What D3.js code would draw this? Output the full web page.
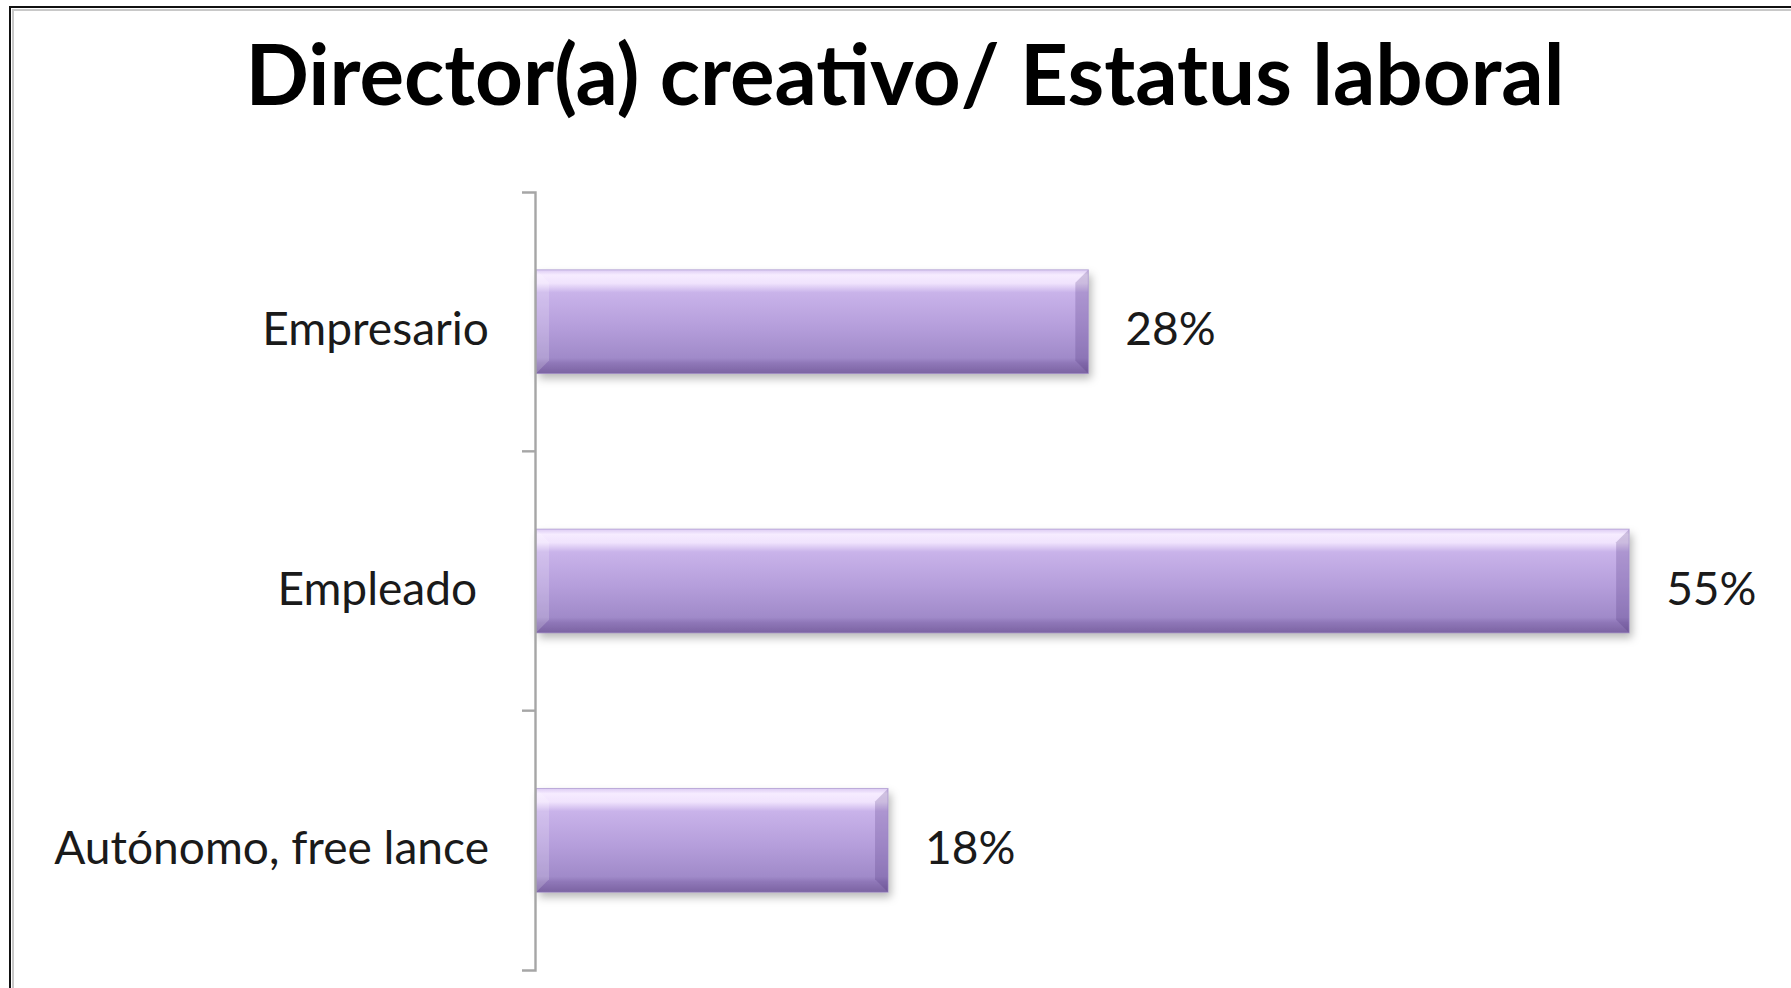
<!DOCTYPE html>
<html>
<head>
<meta charset="utf-8">
<script src="https://cdn.jsdelivr.net/npm/d3@7"></script>
<style>
  html, body { margin: 0; padding: 0; background: #ffffff; }
  svg { display: block; }
  text { font-family: Lato, "Open Sans", "Noto Sans", sans-serif; }
</style>
</head>
<body>
<svg id="chart" width="1791" height="988"></svg>
<script>
// ---- data ----
const title = "Director(a) creativo/ Estatus laboral";
const categories = ["Empresario", "Empleado ", "Autónomo, free lance"];
const values = [28, 55, 18];           // percent
const valueLabels = ["28%", "55%", "18%"];
const xDomain = [0, 60];

// ---- layout ----
const W = 1791, H = 988;
const plot = { axisX: 535, zero: 527.5, right: 1729.3, top: 192, bottom: 970 };

const svg = d3.select("#chart");

// frame
svg.append("rect").attr("x", 13).attr("y", 10).attr("width", W).attr("height", H)
  .attr("fill", "none").attr("stroke", "#c8c8c8").attr("stroke-width", 2);
svg.append("rect").attr("x", 10).attr("y", 7).attr("width", W).attr("height", H)
  .attr("fill", "none").attr("stroke", "#111").attr("stroke-width", 2);

const x = d3.scaleLinear().domain(xDomain).range([plot.zero, plot.right]);
const y = d3.scaleBand().domain(categories).range([plot.top, plot.bottom])
  .paddingInner(0.6).paddingOuter(0.3);

// defs: gradient + shadow
const defs = svg.append("defs");
const grad = defs.append("linearGradient").attr("id", "barGrad")
  .attr("x1", 0).attr("y1", 0).attr("x2", 0).attr("y2", 1);
[[0, "#dccbf3"], [0.05, "#f6ecff"], [0.13, "#f0e3fd"], [0.22, "#c9b3ea"],
 [0.55, "#b59edb"], [0.85, "#a08ac9"], [0.9, "#8f77b8"], [1, "#7b63a2"]]
  .forEach(([o, c]) => grad.append("stop").attr("offset", o).attr("stop-color", c));
const sh = defs.append("filter").attr("id", "shadow")
  .attr("x", "-5%").attr("y", "-20%").attr("width", "115%").attr("height", "150%");
sh.append("feDropShadow").attr("dx", 3).attr("dy", 5).attr("stdDeviation", 4)
  .attr("flood-color", "#000").attr("flood-opacity", 0.28);

// bars (drawn from the axis line to the value position)
const bev = 13;
const x0 = plot.axisX + 1;
const bars = svg.append("g").selectAll("g.bar")
  .data(categories.map((c, i) => ({ c, v: values[i], l: valueLabels[i] })))
  .join("g").attr("class", "bar");

bars.append("rect")
  .attr("x", x0).attr("y", d => y(d.c))
  .attr("width", d => x(d.v) - x0).attr("height", y.bandwidth())
  .attr("fill", "url(#barGrad)").attr("filter", "url(#shadow)");

// bevel: left (light) and right (dark) side facets
bars.append("path")
  .attr("d", d => {
    const y0 = y(d.c), h = y.bandwidth();
    return `M${x0},${y0} L${x0 + bev},${y0 + bev} L${x0 + bev},${y0 + h - bev} L${x0},${y0 + h} Z`;
  })
  .attr("fill", "#ffffff").attr("opacity", 0.18);
bars.append("path")
  .attr("d", d => {
    const x1 = x(d.v), y0 = y(d.c), h = y.bandwidth();
    return `M${x1},${y0} L${x1 - bev},${y0 + bev} L${x1 - bev},${y0 + h - bev} L${x1},${y0 + h} Z`;
  })
  .attr("fill", "#4a2f78").attr("opacity", 0.22);
bars.append("rect")
  .attr("x", x0).attr("y", d => y(d.c))
  .attr("width", d => x(d.v) - x0).attr("height", y.bandwidth())
  .attr("fill", "none").attr("stroke", "#9b86c4").attr("stroke-width", 1).attr("opacity", 0.6);

// axis
const axisG = svg.append("g").attr("transform", `translate(${plot.axisX},0)`)
  .call(d3.axisLeft(y).tickSize(0).tickSizeOuter(13).tickPadding(46));
axisG.select(".domain").attr("stroke", "#a6a6a6").attr("stroke-width", 2.4);
axisG.selectAll(".tick text").attr("fill", "#1a1a1a").style("white-space", "pre")
  .attr("dy", "0.36em").attr("y", 7);
// inner tick marks at band boundaries
const step = y.step();
const bounds = d3.range(1, categories.length).map(i => plot.top + i * step);
axisG.selectAll("line.bound").data(bounds).join("line").attr("class", "bound")
  .attr("x1", -13).attr("x2", 0).attr("y1", d => d).attr("y2", d => d)
  .attr("stroke", "#a6a6a6").attr("stroke-width", 2.4);

// value labels
const vl = bars.append("text")
  .attr("x", d => x(d.v) + 37).attr("y", d => y(d.c) + y.bandwidth() / 2 + 7)
  .attr("dy", "0.36em").attr("fill", "#1a1a1a")
  .text(d => d.l);

// fit label font so the longest label matches the reference width
const ticks = axisG.selectAll(".tick text");
ticks.attr("font-size", 100).attr("font-family", "Lato");
let longest = 0;
ticks.each(function () { longest = Math.max(longest, this.getComputedTextLength()); });
const labelSize = 100 * 435 / longest;
ticks.attr("font-size", labelSize);
vl.attr("font-size", labelSize);

// title, fitted to reference width
const t = svg.append("text").attr("x", 905).attr("y", 105).attr("text-anchor", "middle")
  .attr("font-weight", "bold").attr("fill", "#000").attr("font-size", 100).text(title);
const tw = t.node().getComputedTextLength();
t.attr("font-size", 100 * 1319 / tw);
</script>
</body>
</html>
